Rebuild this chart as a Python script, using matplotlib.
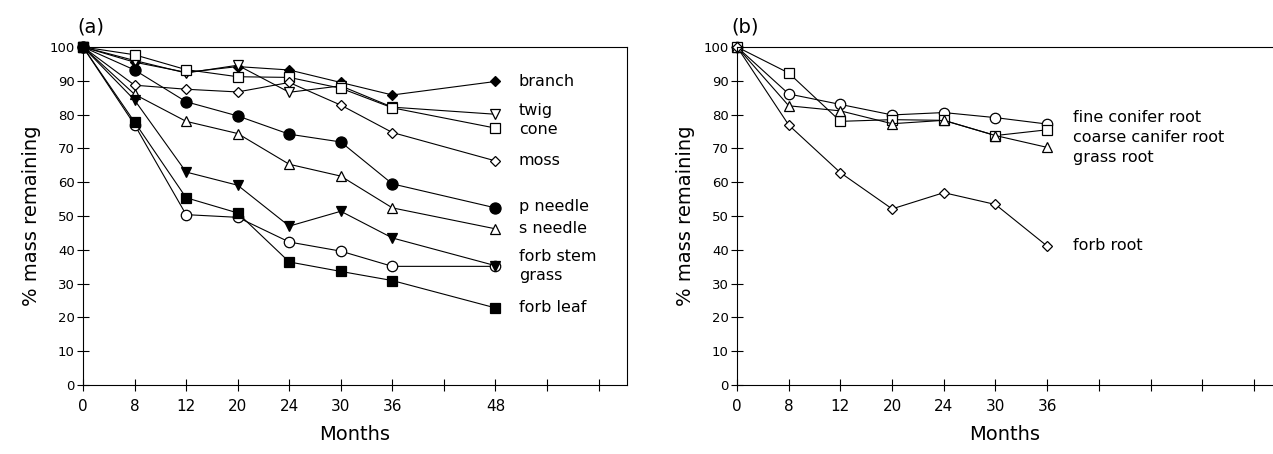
import matplotlib.pyplot as plt
import numpy as np

# months sampled; axis is spaced by slot, not by month
months_a = [0, 8, 12, 20, 24, 30, 36, 48]
months_b = [0, 8, 12, 20, 24, 30, 36]
slot = {0: 0, 8: 1, 12: 2, 20: 3, 24: 4, 30: 5, 36: 6, 42: 7, 48: 8}

branch = [100, 95.5, 92.5, 94.2, 93.2, 89.5, 85.8, 89.8]
twig = [100, 96, 92.3, 94.6, 86.6, 88.5, 82.2, 80.1]
cone = [100, 97.7, 93.3, 91.2, 91.0, 87.8, 82.0, 76.0]
moss = [100, 88.7, 87.5, 86.7, 89.5, 82.8, 74.7, 66.3]
p_needle = [100, 93.2, 83.8, 79.6, 74.2, 71.9, 59.5, 52.4]
s_needle = [100, 86.0, 78.0, 74.4, 65.3, 61.8, 52.4, 46.2]
forb_stem = [100, 77.0, 50.4, 49.6, 42.3, 39.6, 35.1, 35.1]
grass = [100, 84.3, 63.0, 59.1, 47.0, 51.4, 43.5, 35.3]
forb_leaf = [100, 77.8, 55.4, 50.9, 36.4, 33.6, 30.9, 22.8]

fine_root = [100, 86.1, 83.0, 79.9, 80.6, 79.1, 77.2]
coarse_root = [100, 92.3, 78.0, 78.5, 78.3, 73.8, 75.5]
grass_root = [100, 82.6, 81.1, 77.3, 78.3, 73.8, 70.3]
forb_root = [100, 76.9, 62.8, 52.1, 56.9, 53.4, 41.1]

plt.rcParams['font.family'] = ['DejaVu Sans']

fig = plt.figure(figsize=(12.73, 4.54), dpi=100)
ax1 = fig.add_axes([0.0652, 0.152, 0.4273, 0.7445])
ax2 = fig.add_axes([0.579, 0.152, 0.421, 0.7445])

xa = [slot[m] for m in months_a]
xb = [slot[m] for m in months_b]

series_a = [
    (branch, 'D', 'k', 5.5, "branch", 89.8),
    (twig, 'v', 'w', 6.5, "twig", 81.3),
    (cone, 's', 'w', 7.5, "cone", 75.7),
    (moss, 'D', 'w', 5, "moss", 66.5),
    (p_needle, 'o', 'k', 8, "p needle", 52.8),
    (s_needle, '^', 'w', 6.5, "s needle", 46.3),
    (forb_stem, 'o', 'w', 7.5, "forb stem", 38.0),
    (grass, 'v', 'k', 7, "grass", 32.3),
    (forb_leaf, 's', 'k', 7.5, "forb leaf", 23.0),
]
for vals, mk, fc, ms, name, ty in series_a:
    ax1.plot(xa, vals, color='k', lw=0.8, marker=mk, mfc=fc, mec='k',
             ms=ms, mew=0.9)
    ax1.text(8.45, ty, name, fontsize=11.5, va='center', ha='left')

series_b = [
    (fine_root, 'o', 7.5, "fine conifer root", 79.2),
    (coarse_root, 's', 7.5, "coarse canifer root", 73.3),
    (grass_root, '^', 6.5, "grass root", 67.4),
    (forb_root, 'D', 5, "forb root", 41.2),
]
for vals, mk, ms, name, ty in series_b:
    ax2.plot(xb, vals, color='k', lw=0.8, marker=mk, mfc='w', mec='k',
             ms=ms, mew=0.9)
    ax2.text(6.5, ty, name, fontsize=11.5, va='center', ha='left')

labels_a = ['0', '8', '12', '20', '24', '30', '36', '', '48', '', '']
labels_b = ['0', '8', '12', '20', '24', '30', '36', '', '', '', '']

for ax, lab, xmax, tag in [(ax1, labels_a, 10.55, "(a)"), (ax2, labels_b, 10.37, "(b)")]:
    ax.set_xlim(0, xmax)
    ax.set_ylim(0, 100)
    ax.set_xticks(range(11))
    ax.set_xticklabels(lab, fontsize=11)
    ax.set_yticks(np.arange(0, 101, 10))
    ax.tick_params(axis='y', labelsize=9.5, direction='inout', length=8, width=0.8, pad=2)
    ax.tick_params(axis='x', direction='inout', length=8, width=0.8, pad=6)
    ax.set_xlabel("Months", fontsize=14, labelpad=8)
    ax.set_ylabel("% mass remaining", fontsize=14, labelpad=6)
    for s in ax.spines.values():
        s.set_linewidth(0.8)
    ax.text(-0.01, 1.03, tag, transform=ax.transAxes, fontsize=14, ha='left', va='bottom')
    for l in ax.lines:
        l.set_clip_on(False)

ax1.spines['right'].set_linestyle((0, (6, 1)))
ax2.spines['right'].set_visible(False)

fig.savefig("out.png", dpi=100)
